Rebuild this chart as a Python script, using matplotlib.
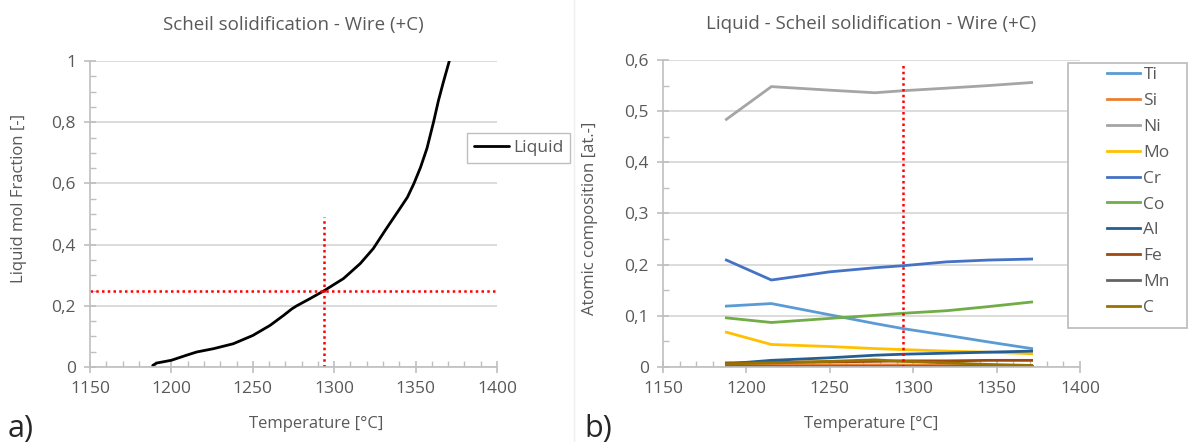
import matplotlib
matplotlib.use("Agg")
import matplotlib.pyplot as plt
from matplotlib.ticker import MultipleLocator, FuncFormatter
from matplotlib.patches import Rectangle
from matplotlib.lines import Line2D

plt.rcParams['font.family'] = ['Open Sans', 'DejaVu Sans']

# Scheil liquid fraction vs temperature
liqT = [1188.5, 1191, 1200, 1209, 1215.5, 1226, 1238, 1250, 1260.6, 1269, 1274, 1277,
        1285, 1294, 1305.7, 1316, 1324, 1332, 1340, 1345, 1349, 1353, 1357, 1361,
        1364, 1367, 1370.7]
liqFrac = [0.005, 0.013, 0.022, 0.038, 0.049, 0.060, 0.076, 0.103, 0.136, 0.169, 0.190, 0.200,
           0.223, 0.250, 0.289, 0.338, 0.387, 0.452, 0.515, 0.555, 0.600, 0.652, 0.715, 0.800,
           0.870, 0.930, 1.0]

# Liquid composition along the Scheil path
compT = [1188, 1215, 1250, 1277, 1294, 1320, 1345, 1371]
Ti = [0.119, 0.124, 0.102, 0.085, 0.075, 0.062, 0.049, 0.036]
Si = [0.004, 0.004, 0.004, 0.004, 0.004, 0.003, 0.003, 0.003]
Ni = [0.484, 0.548, 0.541, 0.536, 0.540, 0.545, 0.550, 0.556]
Mo = [0.068, 0.044, 0.040, 0.036, 0.034, 0.031, 0.029, 0.026]
Cr = [0.209, 0.170, 0.186, 0.194, 0.198, 0.2055, 0.209, 0.211]
Co = [0.096, 0.087, 0.095, 0.101, 0.105, 0.110, 0.118, 0.127]
Al = [0.006, 0.013, 0.018, 0.023, 0.025, 0.027, 0.029, 0.031]
Fe = [0.008, 0.009, 0.010, 0.011, 0.012, 0.012, 0.013, 0.013]
Mn = [0.001, 0.001, 0.001, 0.001, 0.001, 0.001, 0.001, 0.001]
C = [0.006, 0.008, 0.011, 0.014, 0.011, 0.008, 0.005, 0.003]

elements = ['Ti', 'Si', 'Ni', 'Mo', 'Cr', 'Co', 'Al', 'Fe', 'Mn', 'C']
compData = [Ti, Si, Ni, Mo, Cr, Co, Al, Fe, Mn, C]
elemColors = ['#5B9BD5', '#ED7D31', '#A5A5A5', '#FFC000', '#4472C4',
              '#70AD47', '#255E91', '#9E480E', '#636363', '#997300']

# reference point marked on both charts
tMark = 1294
fMark = 0.25

txtColor = '#595959'
gridColor = '#d9d9d9'
axisColor = '#bfbfbf'
refColor = '#ff0000'

comma = FuncFormatter(lambda v, p: ('%g' % round(v, 3)).replace('.', ','))


def styleAxis(ax, yMax, yStep):
    #Excel-like look: horizontal grid, no box, gray axes
    ax.set_xlim(1150, 1400)
    ax.set_ylim(0, yMax)
    ax.xaxis.set_major_locator(MultipleLocator(50))
    ax.xaxis.set_minor_locator(MultipleLocator(10))
    ax.yaxis.set_major_locator(MultipleLocator(yStep))
    ax.yaxis.set_minor_locator(MultipleLocator(yStep / 4 if yStep > 0.1 else yStep / 2))
    ax.yaxis.set_major_formatter(comma)
    ax.grid(axis='y', color=gridColor, lw=1.3)
    ax.set_axisbelow(True)
    for s in ['top', 'right']:
        ax.spines[s].set_visible(False)
    for s in ['left', 'bottom']:
        ax.spines[s].set_color(axisColor)
        ax.spines[s].set_linewidth(1.2)
    ax.tick_params(which='major', direction='inout', length=8, width=1.2, color=axisColor,
                   labelsize=12.5, labelcolor=txtColor, pad=6)
    ax.tick_params(which='minor', direction='in', length=4, width=1.0, color=axisColor)


fig = plt.figure(figsize=(11.89, 4.42), dpi=100)
ax1 = fig.add_axes([90 / 1189, 75 / 442, 407 / 1189, 306 / 442])
ax2 = fig.add_axes([663 / 1189, 75 / 442, 417 / 1189, 307 / 442])

#a) liquid fraction
ax1.plot(liqT, liqFrac, color='black', lw=2, label='Liquid', solid_capstyle='round')
ax1.axhline(fMark, color=refColor, ls=(0, (1, 1.3)), lw=1.8)
ax1.plot([tMark, tMark], [0, 0.49], color=refColor, ls=(0, (1, 1.3)), lw=1.8)
styleAxis(ax1, 1.0, 0.2)
ax1.set_title('Scheil solidification - Wire (+C)', fontsize=13.5, color=txtColor, pad=22)
ax1.set_ylabel('Liquid mol Fraction [-]', fontsize=12, color=txtColor)
ax1.yaxis.set_label_coords(-0.155, 0.55)
ax1.set_xlabel('Temperature [°C]', fontsize=12, color=txtColor)
ax1.xaxis.set_label_coords(0.555, -0.16)
ax1.legend(loc='upper left', bbox_to_anchor=(467 / 1189, 1 - 133 / 442), bbox_transform=fig.transFigure,
           fontsize=12.5, frameon=True, fancybox=False, edgecolor=axisColor, framealpha=1,
           handlelength=2.0, handletextpad=0.25, borderpad=0.4, borderaxespad=0, labelcolor=txtColor)

#b) liquid composition
for name, vals, col in zip(elements, compData, elemColors):
    ax2.plot(compT, vals, color=col, lw=2, label=name)
ax2.plot([tMark, tMark], [0, 0.593], color=refColor, ls=(0, (1, 1.3)), lw=1.8)
styleAxis(ax2, 0.6, 0.1)
ax2.set_title('Liquid - Scheil solidification - Wire (+C)', fontsize=13.5, color=txtColor, pad=22)
ax2.set_ylabel('Atomic composition [at.-]', fontsize=12, color=txtColor)
ax2.yaxis.set_label_coords(-0.155, 0.485)
ax2.set_xlabel('Temperature [°C]', fontsize=12, color=txtColor)
ax2.xaxis.set_label_coords(0.5, -0.16)

# legend frame drawn separately so it can reach the figure edge
fig.patches.append(Rectangle((1068 / 1189, 1 - 328 / 442), 119 / 1189, 265 / 442,
                             transform=fig.transFigure, facecolor='white',
                             edgecolor=axisColor, lw=1.3, zorder=5))
handles = [Line2D([], [], color=c, lw=2) for c in elemColors]
fig.legend(handles, elements, loc='upper left', bbox_to_anchor=(1107 / 1189, 1 - 67 / 442),
           fontsize=12.5, frameon=False, handlelength=1.9, handletextpad=0.2,
           labelspacing=0.56, borderaxespad=0, borderpad=0, labelcolor=txtColor).set_zorder(6)

# panel tags
fig.text(8 / 1189, 1 - 437 / 442, 'a)', fontsize=22, color='#262626')
fig.text(584 / 1189, 1 - 437 / 442, 'b)', fontsize=22, color='#262626')
fig.add_artist(Line2D([574 / 1189, 574 / 1189], [0, 1], transform=fig.transFigure,
                      color='#efefef', lw=1))

fig.savefig('out.png', dpi=100)
